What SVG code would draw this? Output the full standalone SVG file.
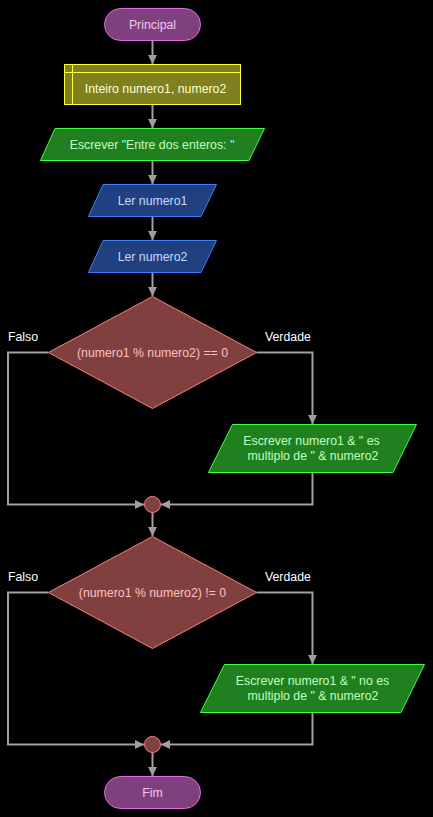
<svg xmlns="http://www.w3.org/2000/svg" width="433" height="817" viewBox="0 0 433 817">
<style>
text{font-family:"Liberation Sans",Arial,sans-serif;font-size:12.3px;text-anchor:middle}
.term{fill:#80407f;stroke:#e070e0;stroke-width:1}
.term-t{fill:#f0c8f0}
.decl{fill:#808020;stroke:#ffff40;stroke-width:1}
.decl-t{fill:#ffffd0}
.out{fill:#208020;stroke:#40ff40;stroke-width:1}
.out-t{fill:#c0ffc0}
.in{fill:#204080;stroke:#4080ff;stroke-width:1}
.in-t{fill:#c8d8ff}
.dec{fill:#804040;stroke:#ff8080;stroke-width:1}
.dec-t{fill:#ffc0c0}
.lbl{fill:#ffffff;text-anchor:start}
.c{fill:none;stroke:#a0a0a0;stroke-width:2}
</style>
<defs>
<marker id="ah" viewBox="0 0 10 10" refX="10" refY="5" markerWidth="4.5" markerHeight="4.5" orient="auto" markerUnits="strokeWidth">
<path d="M0,0 L10,5 L0,10 z" fill="#a0a0a0"/>
</marker>
</defs>
<rect width="433" height="817" fill="#000"/>
<g id="connectors">
<path class="c" d="M152.5,41 V64" marker-end="url(#ah)"/>
<path class="c" d="M152.5,105 V128" marker-end="url(#ah)"/>
<path class="c" d="M152.5,161 V184" marker-end="url(#ah)"/>
<path class="c" d="M152.5,217 V240" marker-end="url(#ah)"/>
<path class="c" d="M152.5,273 V296" marker-end="url(#ah)"/>
<path class="c" d="M256.5,352.5 H312.5 V424" marker-end="url(#ah)"/>
<path class="c" d="M48.5,352.5 H8 V504.5 H144" marker-end="url(#ah)"/>
<path class="c" d="M312.5,473 V504.5 H161" marker-end="url(#ah)"/>
<path class="c" d="M152.5,513 V536" marker-end="url(#ah)"/>
<path class="c" d="M256.5,592.5 H312.5 V664" marker-end="url(#ah)"/>
<path class="c" d="M48.5,592.5 H8 V744.5 H144" marker-end="url(#ah)"/>
<path class="c" d="M312.5,713 V744.5 H161" marker-end="url(#ah)"/>
<path class="c" d="M152.5,753 V776" marker-end="url(#ah)"/>
</g>
<g id="principal">
<rect class="term" x="104.5" y="8.5" width="96" height="32" rx="16"/>
<text class="term-t" x="152.5" y="29">Principal</text>
</g>
<g id="declare">
<rect class="decl" x="64.5" y="64.5" width="176" height="40"/>
<path d="M72.5,64.5 V104.5 M64.5,72.5 H240.5" fill="none" stroke="#ffff40"/>
<text class="decl-t" x="155.5" y="93">Inteiro numero1, numero2</text>
</g>
<g id="output1">
<polygon class="out" points="55,128.5 264.5,128.5 249,160.5 40.5,160.5"/>
<text class="out-t" x="152" y="149">Escrever "Entre dos enteros: "</text>
</g>
<g id="input1">
<polygon class="in" points="103,184.5 216.5,184.5 201,216.5 88.5,216.5"/>
<text class="in-t" x="152.5" y="205">Ler numero1</text>
</g>
<g id="input2">
<polygon class="in" points="103,240.5 216.5,240.5 201,272.5 88.5,272.5"/>
<text class="in-t" x="152.5" y="261">Ler numero2</text>
</g>
<g id="decision1">
<polygon class="dec" points="152.5,296.5 256.5,352.5 152.5,408.5 48.5,352.5"/>
<text class="dec-t" x="152.5" y="357">(numero1 % numero2) == 0</text>
<text class="lbl" x="8" y="341">Falso</text>
<text class="lbl" x="265" y="341">Verdade</text>
</g>
<g id="output2">
<polygon class="out" points="232.5,424.5 416.5,424.5 393,472.5 208.5,472.5"/>
<text class="out-t" x="311.5" y="445">Escrever numero1 &amp; " es</text>
<text class="out-t" x="313" y="460">multiplo de " &amp; numero2</text>
</g>
<g id="merge1">
<circle class="dec" cx="152.5" cy="504.5" r="8"/>
</g>
<g id="decision2">
<polygon class="dec" points="152.5,536.5 256.5,592.5 152.5,648.5 48.5,592.5"/>
<text class="dec-t" x="152.5" y="597">(numero1 % numero2) != 0</text>
<text class="lbl" x="8" y="581">Falso</text>
<text class="lbl" x="265" y="581">Verdade</text>
</g>
<g id="output3">
<polygon class="out" points="224.5,664.5 424.5,664.5 401,712.5 200.5,712.5"/>
<text class="out-t" x="312.5" y="685">Escrever numero1 &amp; " no es</text>
<text class="out-t" x="313" y="700">multiplo de " &amp; numero2</text>
</g>
<g id="merge2">
<circle class="dec" cx="152.5" cy="744.5" r="8"/>
</g>
<g id="fim">
<rect class="term" x="104.5" y="776.5" width="96" height="32" rx="16"/>
<text class="term-t" x="152.5" y="797">Fim</text>
</g>
</svg>
